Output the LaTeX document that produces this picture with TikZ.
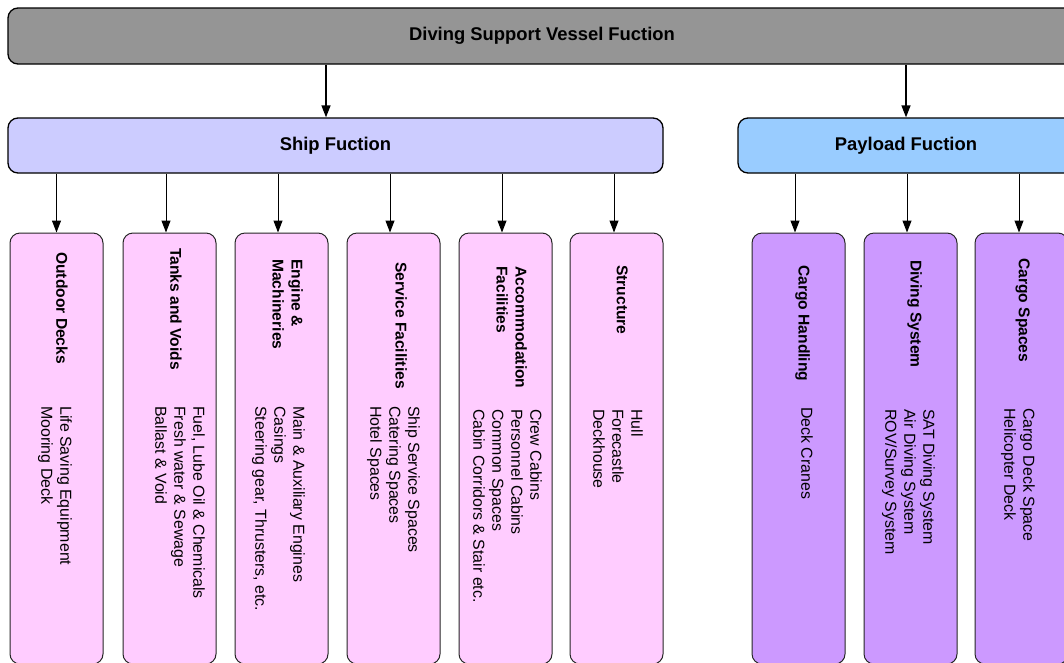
\documentclass[tikz,border=0pt]{standalone}
\usepackage{fontspec}
\setmainfont{Liberation Sans}
\usetikzlibrary{arrows.meta}
\definecolor{topgray}{HTML}{959595}
\definecolor{shipblue}{HTML}{CCCCFF}
\definecolor{payblue}{HTML}{99CCFF}
\definecolor{leafpink}{HTML}{FFCCFF}
\definecolor{leafpurple}{HTML}{CC99FF}
\tikzset{
	funcbox/.style = {
		rectangle,
		rounded corners=10pt,
		draw=black,
		line width=1.3pt,
		inner sep=0pt,
		font=\fontsize{18.4}{22}\selectfont\bfseries
	},
	leafbox/.style = {
		rectangle,
		rounded corners=10pt,
		draw=black!85,
		line width=1pt,
		minimum width=93pt,
		minimum height=431pt
	},
	leaf_ship/.style = {
		leafbox,
		fill=leafpink
	},
	leaf_pay/.style = {
		leafbox,
		fill=leafpurple
	},
	leaftitle/.style = {
		rotate=-90,
		anchor=north west,
		align=left,
		inner sep=0pt,
		font=\fontsize{15.6}{19}\selectfont\bfseries
	},
	leaftext/.style = {
		rotate=-90,
		anchor=north west,
		align=left,
		inner sep=0pt,
		font=\fontsize{15.9}{19}\selectfont
	},
	arr/.style = {
		-{Triangle[length=12pt,width=9pt]},
		line width=1pt
	},
}

\begin{document}
\begin{tikzpicture}[x=1pt,y=-1pt]
\useasboundingbox (0,0) rectangle (1064,662);
\clip (0,0) rectangle (1064,662);

% top level
\node [funcbox, fill=topgray, minimum width=1068pt, minimum height=56pt] (dsv) at (542,36) {Diving Support Vessel Fuction};
\node [funcbox, fill=shipblue, minimum width=655pt, minimum height=55pt] (ship) at (335.5,145.5) {Ship Fuction};
\node [funcbox, fill=payblue, minimum width=336pt, minimum height=55pt] (pay) at (906,145.5) {Payload Fuction};

% ship function leaves
\node [leaf_ship] (outdoor) at (56.5,448.5) {};
\node [leaf_ship] (tanks) at (169.5,448.5) {};
\node [leaf_ship] (engine) at (281.5,448.5) {};
\node [leaf_ship] (service) at (393.5,448.5) {};
\node [leaf_ship] (accom) at (505.5,448.5) {};
\node [leaf_ship] (struct) at (616.5,448.5) {};

% payload function leaves
\node [leaf_pay] (cargoh) at (798.5,448.5) {};
\node [leaf_pay] (diving) at (910.5,448.5) {};
\node [leaf_pay] (cargos) at (1021.5,448.5) {};

% titles
\node [leaftitle] (outdoor_t) at (68,252) {Outdoor Decks};
\node [leaftitle] (tanks_t) at (182,248) {Tanks and Voids};
\node [leaftitle] (engine_t) at (303,259) {Engine \&\\Machineries};
\node [leaftitle] (service_t) at (407,262) {Service Facilities};
\node [leaftitle] (accom_t) at (527,266) {Accommodation\\Facilities};
\node [leaftitle] (struct_t) at (628,265) {Structure};
\node [leaftitle] (cargoh_t) at (810,265) {Cargo Handling};
\node [leaftitle] (diving_t) at (922,260) {Diving System};
\node [leaftitle] (cargos_t) at (1030,258) {Cargo Spaces};

% contents
\node [leaftext] (outdoor_b) at (72,406) {Life Saving Equipment\\Mooring Deck};
\node [leaftext] (tanks_b) at (205,406) {Fuel, Lube Oil \& Chemicals\\Fresh water \& Sewage\\Ballast \& Void};
\node [leaftext] (engine_b) at (305,406) {Main \& Auxiliary Engines\\Casings\\Steering gear, Thrusters, etc.};
\node [leaftext] (service_b) at (420,406) {Ship Service Spaces\\Catering Spaces\\Hotel Spaces};
\node [leaftext] (accom_b) at (542,409) {Crew Cabins\\Personnel Cabins\\Common Spaces\\Cabin Corridors \& Stair etc.};
\node [leaftext] (struct_b) at (643,409) {Hull\\Forecastle\\Deckhouse};
\node [leaftext] (cargoh_b) at (813,407) {Deck Cranes};
\node [leaftext] (diving_b) at (935,409) {SAT Diving System\\Air Diving System\\ROV/Survey System};
\node [leaftext] (cargos_b) at (1035,408) {Cargo Deck Space\\Helicopter Deck};

% connectors
\coordinate (shipin) at ([xshift=-9.5pt]ship.north);
\draw [arr, line width=1.4pt] (dsv.south -| shipin) -- (shipin);
\draw [arr, line width=1.4pt] (dsv.south -| pay.north) -- (pay.north);
\foreach \c/\s in {outdoor/0,tanks/-3.5,engine/-3.5,service/-3.5,accom/-3.5,struct/-2.5}
	\draw [arr] ([xshift=\s pt]ship.south -| \c.north) -- ([xshift=\s pt]\c.north);
\foreach \c/\s in {cargoh/-3.5,diving/-3.5,cargos/-2.5}
	\draw [arr] ([xshift=\s pt]pay.south -| \c.north) -- ([xshift=\s pt]\c.north);
\end{tikzpicture}
\end{document}
